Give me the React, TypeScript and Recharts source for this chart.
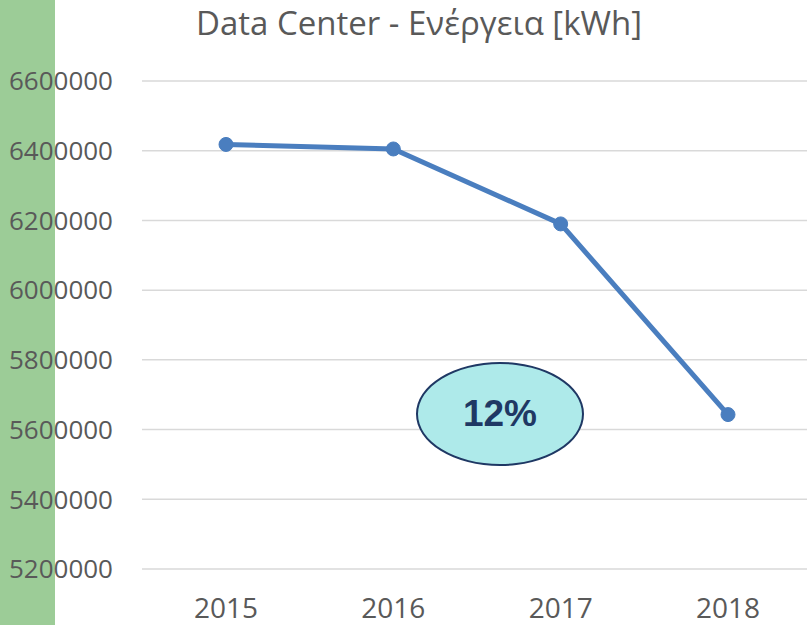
import { LineChart, Line, XAxis, YAxis, CartesianGrid } from "recharts";

const years = ["2015", "2016", "2017", "2018"];
const energy = [6418000, 6405000, 6190000, 5643000];
const yTicks = [5200000, 5400000, 5600000, 5800000, 6000000, 6200000, 6400000, 6600000];

const data = years.map((year, i) => ({ year, energy: energy[i] }));

const FONT = "'Open Sans', sans-serif";
const GREY = "#595959";

export default function App() {
  return (
    <div
      style={{
        position: "absolute",
        left: 0,
        top: 0,
        width: 807,
        height: 625,
        overflow: "hidden",
        background: "#fff",
        fontFamily: FONT,
      }}
    >
      <div style={{ position: "absolute", left: 0, top: 0, width: 55, height: 625, background: "#9ccc97" }} />
      <div
        style={{
          position: "absolute",
          left: 0,
          top: 0,
          width: 838,
          textAlign: "center",
          fontSize: 33,
          color: GREY,
          lineHeight: "46px",
          whiteSpace: "nowrap",
        }}
      >
        Data Center - Ενέργεια [kWh]
      </div>
      <div style={{ position: "absolute", left: 0, top: 0 }}>
        <LineChart width={812} height={625} data={data} margin={{ top: 81, right: 0, bottom: 0, left: 0 }}>
          <CartesianGrid vertical={false} stroke="#d9d9d9" strokeWidth={1.5} />
          <XAxis
            dataKey="year"
            height={56}
            padding={{ left: 84, right: 84 }}
            axisLine={false}
            tickLine={false}
            tickSize={0}
            tickMargin={29}
            tick={{ fill: GREY, fontSize: 28, fontFamily: FONT }}
          />
          <YAxis
            width={142}
            domain={[5200000, 6600000]}
            ticks={yTicks}
            axisLine={false}
            tickLine={false}
            tickSize={0}
            tickMargin={29}
            tick={{ fill: GREY, fontSize: 26, fontFamily: FONT }}
          />
          <Line
            type="linear"
            dataKey="energy"
            stroke="#4a7ebf"
            strokeWidth={5}
            dot={{ r: 7, fill: "#4a7ebf", stroke: "#4a7ebf", strokeWidth: 1 }}
            isAnimationActive={false}
          />
        </LineChart>
      </div>
      <div
        style={{
          position: "absolute",
          left: 416,
          top: 362,
          width: 164,
          height: 100,
          borderRadius: "50%",
          background: "#aeeaea",
          border: "2px solid #1f3864",
          display: "flex",
          alignItems: "center",
          justifyContent: "center",
          fontFamily: "'Liberation Sans', Arial, sans-serif",
          fontWeight: "bold",
          fontSize: 37,
          color: "#1f3864",
        }}
      >
        12%
      </div>
    </div>
  );
}
